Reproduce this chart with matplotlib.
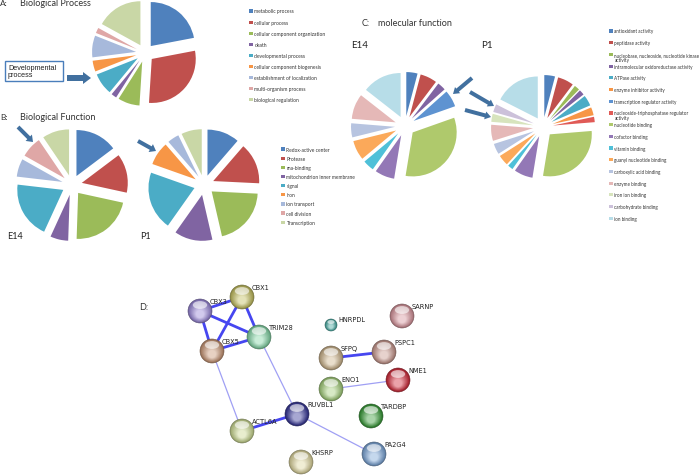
import matplotlib
matplotlib.use("Agg")
import matplotlib.pyplot as plt
import matplotlib.colors as mcolors
from matplotlib.patches import Circle, Ellipse, FancyArrow, Rectangle
import numpy as np

W, H = 700, 477
TITLE_FONT = ['Lato', 'DejaVu Sans']

# ---- panel A: biological process ----
bp_labels = ['metabolic process', 'cellular process', 'cellular component organization',
             'death', 'developmental process', 'cellular component biogenesis',
             'establishment of localization', 'multi-organism process', 'biological regulation']
bp_values = [22, 29, 8, 2, 8, 4, 8, 2, 17]

# ---- panel B: biological function ----
bf_labels = ['Redox-active center', 'Protease', 'rna-binding', 'mitochondrion inner membrane',
             'signal', 'iron', 'ion transport', 'cell division', 'Transcription']
bf_e14 = [14, 13, 21, 6, 19, 0, 6, 7, 9]
bf_p1 = [11, 14, 20, 13, 20, 8, 4, 0, 7]

# ---- panel C: molecular function ----
mf_labels = ['antioxidant activity', 'peptidase activity',
             'nucleobase, nucleoside, nucleotide kinase\nactivity',
             'intramolecular oxidoreductase activity', 'ATPase activity',
             'enzyme inhibitor activity', 'transcription regulator activity',
             'nucleoside-triphosphatase regulator\nactivity', 'nucleotide binding',
             'cofactor binding', 'vitamin binding', 'guanyl nucleotide binding',
             'carboxylic acid binding', 'enzyme binding', 'iron ion binding',
             'carbohydrate binding', 'ion binding']
mf_e14 = [4, 6, 0, 3, 0, 0, 6, 0, 32, 7, 4, 7, 5, 9, 0, 0, 14]
mf_p1 = [4, 6, 2, 2, 4, 3, 0, 2, 28, 7, 2, 4, 4, 6, 3, 3, 17]

# ---- panel D: network ----
nodes = ['CBX1', 'CBX3', 'TRIM28', 'CBX5', 'HNRPDL', 'SFPQ', 'SARNP', 'PSPC1',
         'NME1', 'ENO1', 'TARDBP', 'RUVBL1', 'ACTL6A', 'PA2G4', 'KHSRP']
strong_edges = [('CBX3', 'CBX1'), ('CBX3', 'CBX5'), ('CBX3', 'TRIM28'), ('CBX1', 'CBX5'),
                ('CBX1', 'TRIM28'), ('CBX5', 'TRIM28'), ('SFPQ', 'PSPC1'), ('RUVBL1', 'ACTL6A')]
weak_edges = [('CBX5', 'ACTL6A'), ('TRIM28', 'RUVBL1'), ('ENO1', 'NME1'), ('RUVBL1', 'PA2G4')]

# layout of the network (pixel positions) and node colours
node_pos = {'CBX1': (242, 298), 'CBX3': (200, 312), 'TRIM28': (259, 338), 'CBX5': (212, 352),
            'HNRPDL': (331, 326), 'SFPQ': (331, 359), 'SARNP': (402, 317), 'PSPC1': (384, 353),
            'NME1': (398, 381), 'ENO1': (331, 390), 'TARDBP': (371, 417), 'RUVBL1': (297, 415),
            'ACTL6A': (242, 432), 'PA2G4': (374, 455), 'KHSRP': (301, 463)}
node_col = {'CBX1': '#c4bf62', 'CBX3': '#9c8ad8', 'TRIM28': '#86d6a8', 'CBX5': '#c99878',
            'HNRPDL': '#4aaaa2', 'SFPQ': '#cdb58e', 'SARNP': '#d8979f', 'PSPC1': '#c99a90',
            'NME1': '#d2303f', 'ENO1': '#a6cf7e', 'TARDBP': '#3f9f3f', 'RUVBL1': '#3c3c9a',
            'ACTL6A': '#cbd893', 'PA2G4': '#7fa8d8', 'KHSRP': '#ded6a0'}

pal9 = ['#4F81BD', '#C0504D', '#9BBB59', '#8064A2', '#4BACC6', '#F79646',
        '#A7B9DB', '#DFA7A6', '#C9D7A6']
pal17 = ['#4F81BD', '#C0504D', '#9BBB59', '#8064A2', '#4BACC6', '#F79646', '#5E93D1',
         '#E05A56', '#AFC96C', '#9378B6', '#4FC0D8', '#FBA95A', '#B7C4E0', '#E5B8B7',
         '#D7E4BD', '#CCC1DA', '#B7DDE8']
ARROW = '#41709f'


def Y(py):
    return H - py


def pie(ax, values, colors, cx, cy, r, gap):
    # explode offsets are in data units (pixels here)
    ax.pie(values, colors=colors, center=(cx, Y(cy)), radius=r, explode=[gap] * len(values),
           startangle=90, counterclock=False, frame=True, wedgeprops=dict(linewidth=0))


def legend(ax, labels, colors, x, y0, step, fs):
    for i, (lab, c) in enumerate(zip(labels, colors)):
        y = y0 + i * step
        ax.add_patch(Rectangle((x - 1.6, Y(y) - 1.6), 3.2, 3.2, fc=c, ec='none'))
        if '\n' in lab:
            ax.text(x + 3.5, Y(y) + 2.6, lab, fontsize=fs, va='top', ha='left',
                    family=TITLE_FONT, color='#333333', linespacing=0.95)
        else:
            ax.text(x + 3.5, Y(y), lab, fontsize=fs, va='center', ha='left',
                    family=TITLE_FONT, color='#333333')


def arrow(ax, x0, y0, x1, y1, w, hw, hl):
    ax.add_patch(FancyArrow(x0, Y(y0), x1 - x0, Y(y1) - Y(y0), width=w, head_width=hw,
                            head_length=hl, length_includes_head=True, fc=ARROW, ec='none'))


def sphere(ax, x, y, r, col):
    base = np.array(mcolors.to_rgb(col))
    light = base + (1 - base) * 0.55
    ax.add_patch(Circle((x, Y(y)), r, fc=base * 0.72, ec=base * 0.55, lw=0.4, zorder=3))
    n = 14
    for i in range(n):
        t = i / (n - 1)
        rr = r * (0.93 - 0.6 * t)
        c = base * 0.8 * (1 - t) + light * t
        ax.add_patch(Circle((x, Y(y) - 0.25 * r * t), rr, fc=np.clip(c, 0, 1), ec='none',
                            zorder=3))
    ax.add_patch(Ellipse((x, Y(y) + 0.5 * r), 1.2 * r, 0.65 * r, fc='white', alpha=0.6,
                         ec='none', zorder=4))


fig = plt.figure(figsize=(7, 4.77), dpi=100)
ax = fig.add_axes([0, 0, 1, 1])

# panel A
ax.text(0, Y(4), 'A:', fontsize=6, family=TITLE_FONT, va='center', color='#333333')
ax.text(20, Y(4), 'Biological Process', fontsize=6.5, family=TITLE_FONT, va='center',
        color='#333333')
pie(ax, bp_values, pal9, 145, 54, 44, 9)
legend(ax, bp_labels, pal9, 251, 12, 11.1, 3.6)
ax.add_patch(Rectangle((5, Y(82)), 58, 20, fc='white', ec='#4a7ebb', lw=1.0))
ax.text(8, Y(72), 'Developmental\nprocess', fontsize=5.2, family=['Liberation Sans'],
        va='center', ha='left', linespacing=1.0, color='#222222')
arrow(ax, 67, 79, 91, 79, 6, 12, 8)

# panel B
ax.text(0, Y(118), 'B:', fontsize=6, family=TITLE_FONT, va='center', color='#333333')
ax.text(20, Y(118), 'Biological Function', fontsize=6.5, family=TITLE_FONT, va='center',
        color='#333333')
pie(ax, bf_e14, pal9, 72, 186, 46, 10)
pie(ax, bf_p1, pal9, 204, 186, 46, 10)
ax.text(7, Y(237), 'E14', fontsize=6.5, family=TITLE_FONT, va='center', color='#222222')
ax.text(140, Y(237), 'P1', fontsize=6.5, family=TITLE_FONT, va='center', color='#222222')
legend(ax, bf_labels, pal9, 283, 150, 9.15, 3.5)
arrow(ax, 18, 128, 33, 143, 4, 9, 6)
arrow(ax, 138, 142, 156, 152, 4, 9, 6)

# panel C
ax.text(362, Y(23), 'C:', fontsize=6.5, family=TITLE_FONT, va='center', color='#333333')
ax.text(378, Y(23), 'molecular function', fontsize=6.5, family=TITLE_FONT, va='center',
        color='#333333')
ax.text(351, Y(45), 'E14', fontsize=7, family=TITLE_FONT, va='center', color='#222222')
ax.text(481, Y(45), 'P1', fontsize=7, family=TITLE_FONT, va='center', color='#222222')
pie(ax, mf_e14, pal17, 405, 127, 44, 10)
pie(ax, mf_p1, pal17, 543, 128, 42, 10)
legend(ax, mf_labels, pal17, 611, 32, 11.7, 3.3)
arrow(ax, 472, 79, 453, 95, 4, 8, 6)
arrow(ax, 470, 93, 494, 107, 4, 8, 6)
arrow(ax, 465, 111, 491, 118, 4, 8, 6)

# panel D
ax.text(139, Y(308), 'D:', fontsize=6.5, family=TITLE_FONT, va='center', color='#333333')
for a, b in weak_edges:
    (x0, y0), (x1, y1) = node_pos[a], node_pos[b]
    ax.plot([x0, x1], [Y(y0), Y(y1)], color='#a0a0f4', lw=0.9, zorder=2)
for a, b in strong_edges:
    (x0, y0), (x1, y1) = node_pos[a], node_pos[b]
    ax.plot([x0, x1], [Y(y0), Y(y1)], color='#4646f0', lw=2.0, zorder=2)
for name in nodes:
    x, y = node_pos[name]
    r = 6 if name == 'HNRPDL' else 12
    sphere(ax, x, y, r, node_col[name])
    ax.text(x + (7 if r < 12 else 10), Y(y - (6 if r < 12 else 10)), name, fontsize=4.8,
            family=['DejaVu Sans'], va='center', ha='left', color='#222222', zorder=5)

ax.set_xlim(0, W)
ax.set_ylim(0, H)
ax.axis('off')

fig.savefig('out.png', dpi=100, facecolor='white')
